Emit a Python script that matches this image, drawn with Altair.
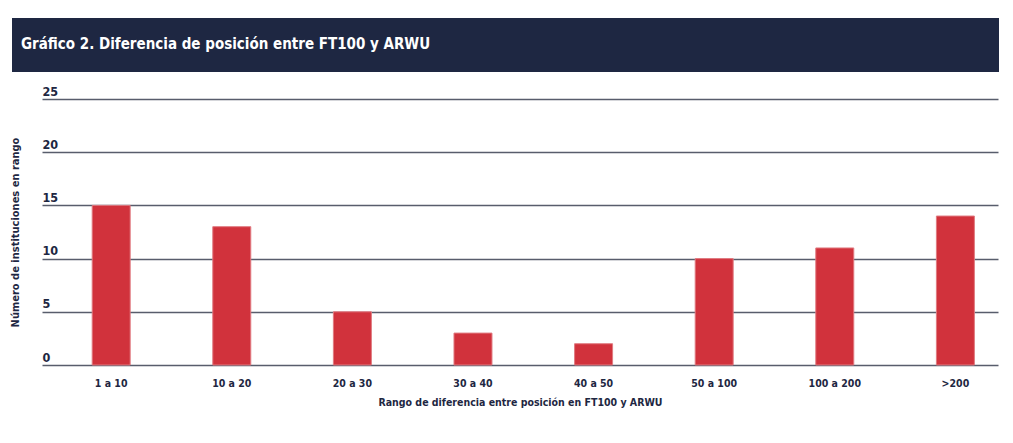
import altair as alt
import pandas as pd

categories = ["1 a 10", "10 a 20", "20 a 30", "30 a 40", "40 a 50", "50 a 100", "100 a 200", ">200"]
values = [15, 13, 5, 3, 2, 10, 11, 14]
y_ticks = [0, 5, 10, 15, 20, 25]

title_text = "Gráfico 2. Diferencia de posición entre FT100 y ARWU"
x_title = "Rango de diferencia entre posición en FT100 y ARWU"
y_title = "Número de instituciones en rango"

FONT = "DejaVu Sans Condensed, Liberation Sans Narrow, Roboto, sans-serif"
NAVY = "#1e2742"
RED = "#d1323c"

df = pd.DataFrame({"rango": categories, "n": values})

bars = alt.Chart(df).mark_bar(color=RED, stroke="#e07a80", strokeWidth=1).encode(
    x=alt.X(
        "rango:N",
        sort=categories,
        scale=alt.Scale(paddingInner=0.685, paddingOuter=0.306, align=0.68),
        axis=alt.Axis(
            title=x_title,
            grid=False,
            labelAngle=0,
            labelFont=FONT,
            labelFontSize=10.5,
            labelFontWeight="bold",
            labelColor=NAVY,
            labelPadding=13,
            ticks=False,
            domain=False,
            titleFont=FONT,
            titleFontSize=10.5,
            titleFontWeight="bold",
            titleColor=NAVY,
            titlePadding=9,
        ),
    ),
    y=alt.Y(
        "n:Q",
        scale=alt.Scale(domain=[0, 25], nice=False),
        axis=alt.Axis(
            title=y_title,
            values=y_ticks,
            grid=True,
            gridColor="#585d6c",
            gridWidth=1.5,
            ticks=False,
            domain=False,
            labelAlign="left",
            labelBaseline="alphabetic",
            labelPadding=0,
            labelOffset=-4,
            labelFont=FONT,
            labelFontSize=12.5,
            labelFontWeight="bold",
            labelColor=NAVY,
            titleFont=FONT,
            titleFontSize=11,
            titleFontWeight="bold",
            titleColor=NAVY,
            titleX=-27,
            titleY=133,
            titleAngle=-90,
            titleBaseline="middle",
        ),
    ),
)

banner_df = pd.DataFrame({"t": [title_text]})
banner = alt.Chart(banner_df).mark_rect(color=NAVY).encode(
    x=alt.value(-30), x2=alt.value(957), y=alt.value(-81), y2=alt.value(-27)
)
banner_text = alt.Chart(banner_df).mark_text(
    align="left", baseline="middle", color="white", font=FONT,
    fontSize=15, fontWeight="bold"
).encode(x=alt.value(-21), y=alt.value(-55), text="t:N")

chart = alt.layer(banner, banner_text, bars).properties(
    width=956,
    height=266,
    padding={"left": 34, "top": 91, "right": 7, "bottom": 60},
    autosize=alt.AutoSizeParams(type="none"),
    background="white",
).configure_view(strokeWidth=0, stroke="transparent")

chart.save("out.html", embed_options={"renderer": "svg", "actions": False})
